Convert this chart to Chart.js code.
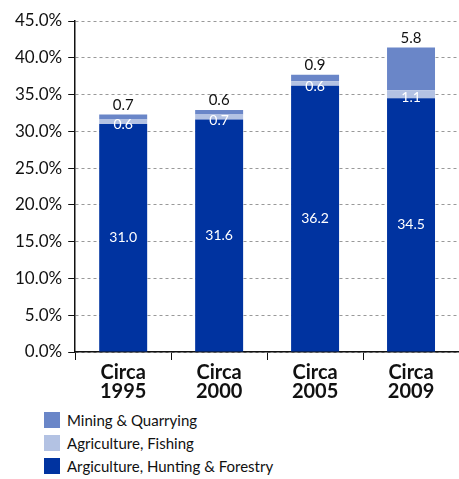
<!DOCTYPE html>
<html>
<head>
<meta charset="utf-8">
<script src="https://cdn.jsdelivr.net/npm/chart.js@4.4.0/dist/chart.umd.min.js"></script>
<style>
  body { margin: 0; background: #fff; font-family: Lato, sans-serif; }
  #wrap { width: 459px; height: 404px; position: relative; }
  #legend { margin: 4px 0 0 44px; padding: 0; list-style: none; }
  #legend li { display: flex; align-items: center; height: 23px; font-size: 15px; color: #111; }
  #legend span.box { width: 16px; height: 16px; margin-right: 7px; display: inline-block; }
</style>
</head>
<body>
<div id="wrap"><canvas id="chart"></canvas></div>
<ul id="legend"></ul>
<script>
// categories and series values
const categories = [['Circa', '1995'], ['Circa', '2000'], ['Circa', '2005'], ['Circa', '2009']];
const hunting = [31.0, 31.6, 36.2, 34.5];
const fishing = [0.6, 0.7, 0.6, 1.1];
const mining = [0.7, 0.6, 0.9, 5.8];
const yTicks = [0, 5, 10, 15, 20, 25, 30, 35, 40, 45];

const seriesNames = ['Argiculture, Hunting & Forestry', 'Agriculture, Fishing', 'Mining & Quarrying'];
const seriesColors = ['#0033a0', '#b3c2e3', '#6a86c8'];

// draws the value labels on each segment
const valueLabels = {
  id: 'valueLabels',
  afterDatasetsDraw(chart) {
    const ctx = chart.ctx;
    ctx.save();
    ctx.textAlign = 'center';
    chart.data.datasets.forEach((ds, i) => {
      const meta = chart.getDatasetMeta(i);
      meta.data.forEach((bar, j) => {
        const v = ds.data[j].toFixed(1);
        if (i === 2) {
          ctx.fillStyle = '#111';
          ctx.font = '15px Lato';
          ctx.textBaseline = 'bottom';
          ctx.fillText(v, bar.x, bar.y - 2);
        } else {
          ctx.fillStyle = '#fff';
          ctx.font = '14px Lato';
          ctx.textBaseline = 'middle';
          ctx.fillText(v, bar.x, (bar.y + bar.base) / 2 + (i === 1 ? 3 : 0));
        }
      });
    });
    ctx.restore();
  },
};

const ctx = document.getElementById('chart').getContext('2d');
new Chart(ctx, {
  type: 'bar',
  data: {
    labels: categories,
    datasets: [hunting, fishing, mining].map((d, i) => ({
      label: seriesNames[i],
      data: d,
      backgroundColor: seriesColors[i],
      barPercentage: 0.5,
      categoryPercentage: 1,
    })),
  },
  options: {
    responsive: true,
    maintainAspectRatio: false,
    animation: false,
    layout: { padding: { top: 21, left: 9, right: 0, bottom: 0 } },
    plugins: {
      legend: { display: false },
      tooltip: { enabled: false },
    },
    scales: {
      x: {
        stacked: true,
        grid: { drawOnChartArea: false, tickLength: 8, color: '#111', tickColor: '#111' },
        border: { color: '#111', width: 1.5 },
        ticks: { color: '#111', font: { family: 'Lato', size: 20, weight: 'bold', lineHeight: 0.95 }, padding: 3 },
      },
      y: {
        stacked: true,
        min: 0,
        max: 45,
        afterBuildTicks(axis) {
          axis.ticks = yTicks.map((v) => ({ value: v }));
        },
        grid: { color: '#999', tickColor: '#111', tickLength: 7, lineWidth: 1 },
        border: { color: '#111', width: 1.5, dash: [3, 3] },
        ticks: {
          color: '#111',
          padding: 6,
          font: { family: 'Lato', size: 17 },
          callback: (v) => v.toFixed(1) + '%',
        },
      },
    },
  },
  plugins: [valueLabels],
});

// legend, listed top to bottom as in the picture
const legend = document.getElementById('legend');
[2, 1, 0].forEach((i) => {
  const li = document.createElement('li');
  li.innerHTML = `<span class="box" style="background:${seriesColors[i]}"></span>${seriesNames[i]}`;
  legend.appendChild(li);
});
</script>
</body>
</html>
